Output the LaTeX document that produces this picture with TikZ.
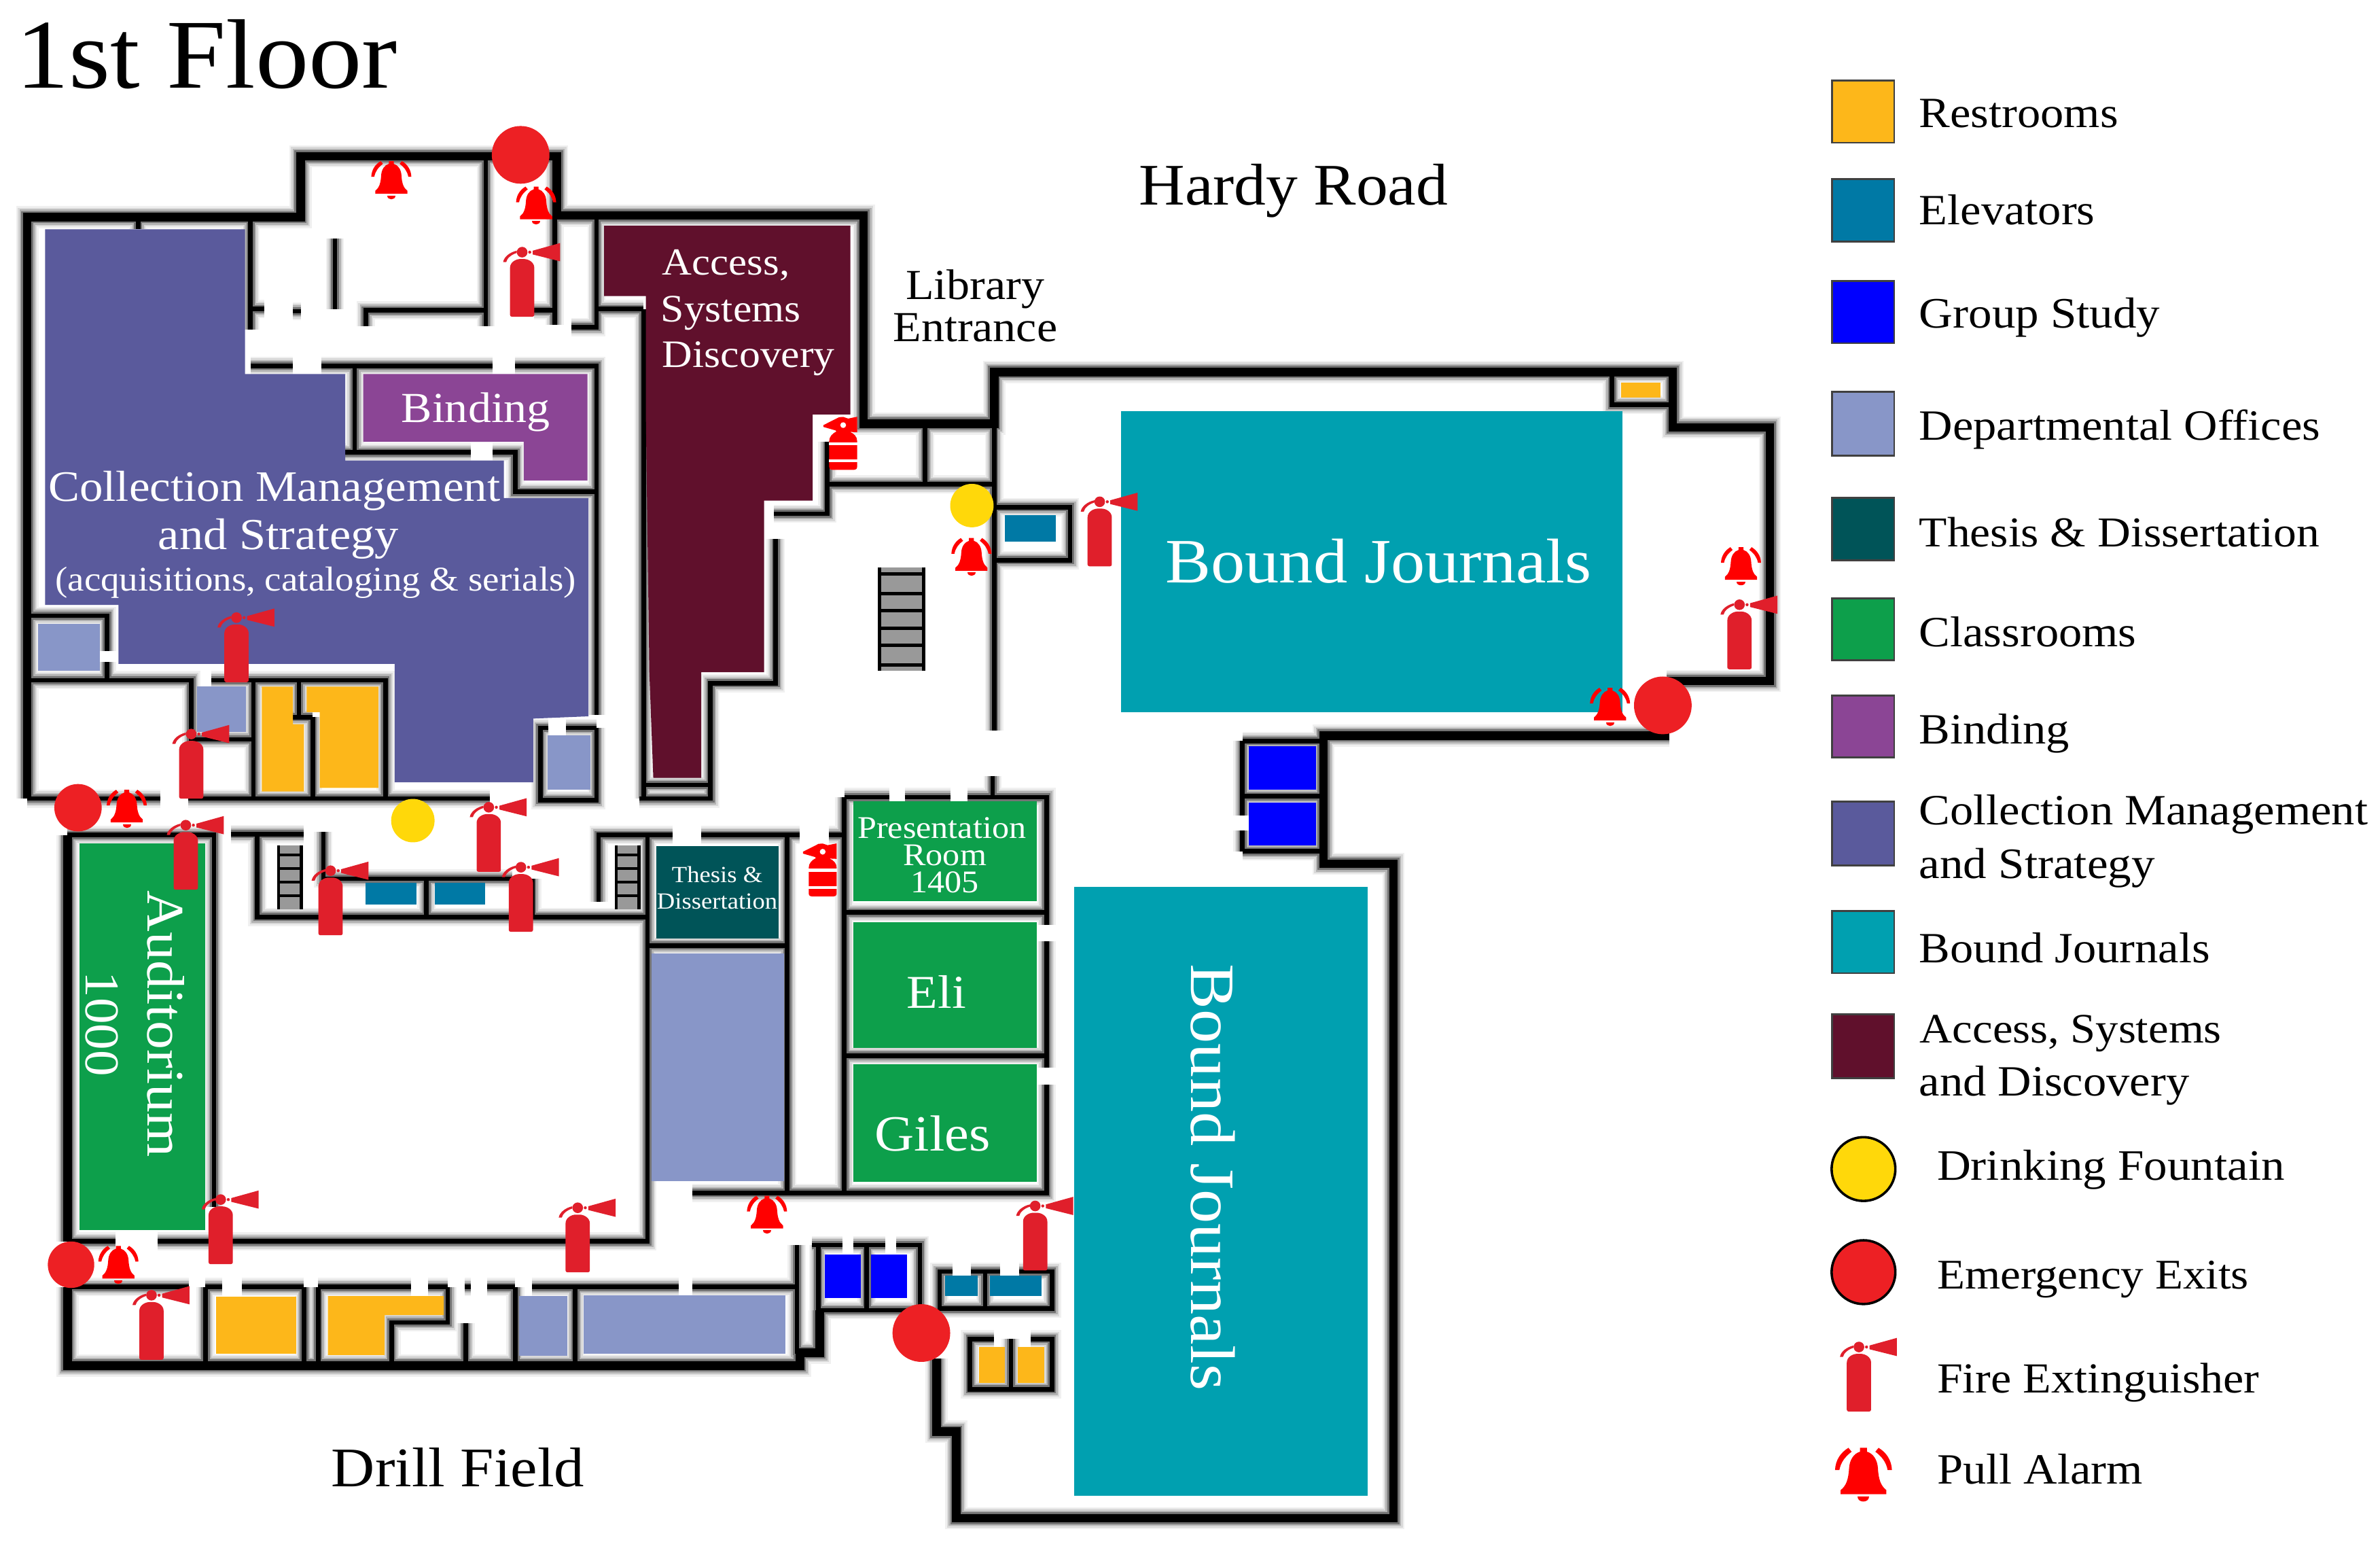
\documentclass[tikz,border=0pt]{standalone}
\usepackage{fontspec}
\setmainfont[FakeStretch=1.08]{Liberation Serif}
\definecolor{restroom}{HTML}{FDB71A}
\definecolor{elevator}{HTML}{0079A5}
\definecolor{groupstudy}{HTML}{0000FF}
\definecolor{deptoffice}{HTML}{8896C8}
\definecolor{thesis}{HTML}{005458}
\definecolor{classroom}{HTML}{0D9F4B}
\definecolor{binding}{HTML}{8B4595}
\definecolor{collection}{HTML}{5A5A9C}
\definecolor{journals}{HTML}{00A0B0}
\definecolor{access}{HTML}{60102C}
\definecolor{fountain}{HTML}{FFD80A}
\definecolor{exitred}{HTML}{ED2024}
\definecolor{firered}{HTML}{E01F2B}
\definecolor{alarmred}{HTML}{FF0000}
% thick outside walls
\newcommand{\wallsout}{
(18,526) -- (18,143) -- (198,143) -- (198,103) -- (367,103) -- (367,142) -- (569,142) -- (569,279) -- (655,279) -- (655,245) -- (1102,245) -- (1102,281.5) -- (1166,281.5) -- (1166,448.5) -- (1098,448.5)
(1100,484.5) -- (872,484.5) -- (872,569) -- (918,569) -- (918,1000) -- (630,1000) -- (630,943) -- (617,943) -- (617,895)
(44.5,817.6) -- (44.5,550)
(44.5,847.6) -- (44.5,899.4) -- (527,899.4) -- (527,891) -- (540,891) -- (540,863)
}
% thin inside walls
\newcommand{\wallsin}{
(91,143) -- (91,151)
(165,143) -- (165,217) (165,203.5) -- (174,203.5)
(193,205) -- (198.5,205)
(220.7,157) -- (220.7,203.5)
(241,215) -- (241,204.4) -- (320,204.4) (320,103) -- (320,215)
(365.4,103) -- (365.4,214) (352,204.4) -- (365.4,204.4)
(393,142) -- (393,215.5) -- (376.6,215.5) (393,203.5) -- (424,203.5)
(424,203.5) -- (424,526) (424,517) -- (468,517) (421,526) -- (468,526) -- (468,450) -- (511,450) -- (511,355)
(510,338.4) -- (545,338.4) -- (545,291)
(545,319) -- (569,319)
(165,241) -- (193,241) (211.5,241) -- (324.6,241) (339.5,241) -- (393,241) -- (393,471)
(233.7,241) -- (233.7,298) (227,298) -- (310,298) (324.6,298) -- (339.5,298) -- (339.5,324) -- (393,324)
(18,405.5) -- (70.5,405.5) -- (70.5,429) (70.5,436) -- (70.5,448) (18,448) -- (126,448) -- (126,487) -- (167,487)
(139,448) -- (254,448) -- (254,526) (167,448) -- (167,526)
(197,448) -- (197,472.4) (193,472.4) -- (206,472.4) (206,472.4) -- (206,526)
(18,526) -- (105.7,526) (124,526) -- (322.8,526)
(393,479.4) -- (393,527) -- (356,527) -- (356,479.4) -- (361,479.4) (373,479.4) -- (393,479.4)
(568,319) -- (655,319) (609.5,279) -- (609.5,319)
(655,279) -- (655,481) (654,511) -- (654,525)
(655,334) -- (705,334) -- (705,369) -- (655,369)
(818.5,488) -- (872,488) (818.5,524.5) -- (872,524.5) (818.5,560.7) -- (872,560.7) -- (872,488) (818.5,488) -- (818.5,537) (818.5,547) -- (818.5,560.7)
(44.5,550) -- (141,550) -- (141,795)
(44.5,817.6) -- (76,817.6) (104,817.6) -- (426.6,817.6) -- (426.6,550)
(152,549.3) -- (200,549.3) (169.5,549.3) -- (169.5,604) -- (426.6,604)
(213,548) -- (213,578.7) -- (337.6,578.7) (281,578.7) -- (281,604) (350.6,578.7) -- (350.6,604)
(394.4,594) -- (394.4,550) -- (443.3,550) (462,550) -- (526.8,550) (546,550) -- (556,550)
(426.6,622.7) -- (518.6,622.7) (518.6,550) -- (518.6,784.6)
(556.2,525) -- (556.2,785.7) (556.2,525) -- (586,525) (596,525) -- (626,525) (637.6,525) -- (689.5,525) -- (689.5,609) (689.5,620) -- (689.5,703) (689.5,714.5) -- (689.5,785.7) -- (456,785.7)
(556.2,601) -- (689.5,601) (556.2,695.3) -- (689.5,695.3)
(535,820) -- (555,820) (562,820) -- (583.3,820) (590.5,820) -- (606,820) -- (606,863) -- (539,863) -- (539,820) (571,820) -- (571,863)
(525,820) -- (525,890) -- (540,890)
(627.6,837.5) -- (619,837.5) -- (619,862) -- (693,862) -- (693,837.5) -- (671.3,837.5) (639.6,837.5) -- (659,837.5) (649,837.5) -- (649,862)
(654.7,882) -- (639,882) -- (639,915) -- (693,915) -- (693,882) -- (679,882) (666,882) -- (666,915)
(1062,245) -- (1062,266.6) -- (1101,266.6)
(44.5,847.6) -- (124.3,847.6) (135.4,847.6) -- (146.5,847.6) (159.5,847.6) -- (200.3,847.6) (209.6,847.6) -- (270.8,847.6) (282,847.6) -- (295,847.6) (306,847.6) -- (310,847.6) (321,847.6) -- (339.5,847.6) (350.6,847.6) -- (447,847.6) (456.3,847.6) -- (525,847.6)
(135.4,847.6) -- (135.4,899) (200.3,847.6) -- (200.3,899) (209.6,847.6) -- (209.6,899)
(295,847.6) -- (295,871) -- (258,871) -- (258,899) (306.8,871.6) -- (306.8,899)
(339.5,847.6) -- (339.5,899) (379,847.6) -- (379,899)
}
\begin{document}
\begin{tikzpicture}[x=0.5pt, y=-0.5pt,
  txt/.style = {font=\fontsize{#1}{#1}\selectfont, inner sep=0pt, anchor=base west},
  txtw/.style = {txt=#1, text=white},
  swatch/.style = {draw=black!75, line width=0.6pt},
  exitdot/.style = {fill=exitred},
  waterdot/.style = {fill=fountain},
  pics/firebig/.style = {code={
    \fill[firered, rounded corners=0.6pt] (-8,0) -- (-8,-31) .. controls (-8,-36) and (-4,-38) .. (0,-38) .. controls (4,-38) and (8,-36) .. (8,-31) -- (8,0) -- cycle;
    \fill[firered] (0,-42.5) circle[radius=3.5];
    \fill[firered] (5,-42.5) circle[radius=1];
    \fill[firered] (7,-43.5) -- (25,-48.5) -- (25,-36.5) -- (7,-41) -- cycle;
    \fill[firered] (-12.5,-36) .. controls (-12,-39.5) and (-8,-42.5) .. (-3.5,-43.5) -- (-3.5,-42) .. controls (-7,-41) and (-10,-38.5) .. (-10.5,-36) -- cycle;
  }},
  pics/firesmall/.style = {code={
    \fill[alarmred] (-9.2,-2) .. controls (-9.2,-0.5) and (-8,0) .. (-7,0) -- (7,0) .. controls (8,0) and (9.2,-0.5) .. (9.2,-2) -- (9.2,-19) .. controls (9.2,-22) and (7,-24) .. (4.5,-25) -- (9.2,-24.8) -- (9.2,-35) -- (3.3,-33.8) -- (0,-34.9) -- (-2.7,-34.7) -- (-13,-29.5) -- (-13,-28.3) -- (-5,-26) -- (-4.5,-25.3) .. controls (-7,-24) and (-9.2,-22) .. (-9.2,-19) -- cycle;
    \fill[white] (0,-29.5) circle[radius=1.9];
    \fill[white] (-9.4,-18.3) rectangle (9.4,-16.4);
    \fill[white] (-9.4,-7) rectangle (9.4,-5.2);
  }},
  pics/bell/.style = {code={
    \fill[alarmred] (-1.6,-12.6) -- (1.6,-12.6) -- (1.6,-10.8) .. controls (4.5,-10) and (6.5,-7) .. (6.7,-3) .. controls (7,2) and (8,5) .. (10.6,7) -- (10.6,8.9) -- (-10.6,8.9) -- (-10.6,7) .. controls (-8,5) and (-7,2) .. (-6.7,-3) .. controls (-6.5,-7) and (-4.5,-10) .. (-1.6,-10.8) -- cycle;
    \fill[alarmred] (-2.7,10) .. controls (-2.7,13.2) and (2.7,13.2) .. (2.7,10) -- cycle;
    \fill[alarmred] (-13.2,-2.3) .. controls (-13,-7) and (-10.5,-10.5) .. (-7,-12.6) -- (-5.5,-10.8) .. controls (-8.5,-8.5) and (-10.5,-6) .. (-11.2,-2.3) -- cycle;
    \fill[alarmred] (13.2,-2.3) .. controls (13,-7) and (10.5,-10.5) .. (7,-12.6) -- (5.5,-10.8) .. controls (8.5,-8.5) and (10.5,-6) .. (11.2,-2.3) -- cycle;
  }}]
\useasboundingbox (0,0) rectangle (1568,1015.6);
% soft edge of the walls
\draw[black!6, line width=7.3pt] \wallsout;
\draw[black!6, line width=6pt] \wallsin;
\draw[black!15, line width=6.2pt] \wallsout;
\draw[black!15, line width=4.9pt] \wallsin;
\draw[black!30, line width=5.1pt] \wallsout;
\draw[black!30, line width=3.8pt] \wallsin;
\draw[black!55, line width=4pt] \wallsout;
\draw[black!55, line width=2.7pt] \wallsin;
\draw[black, line width=2.8pt] \wallsout;
\draw[black, line width=1.5pt] \wallsin;
% stairs
\fill[black!40] (579.6,373.7) rectangle (608.6,442);
\draw[black, line width=1.1pt] (579.6,373.7) -- (579.6,442) (608.6,373.7) -- (608.6,442) (579.6,378) -- (608.6,378) (579.6,391) -- (608.6,391) (579.6,402) -- (608.6,402) (579.6,414) -- (608.6,414) (579.6,425) -- (608.6,425) (579.6,438) -- (608.6,438);
\fill[black!40] (183.6,556.8) rectangle (198.5,598.7);
\draw[black, line width=1pt] (183.6,556.8) -- (183.6,598.7) (198.5,556.8) -- (198.5,598.7) (183.6,563) -- (198.5,563) (183.6,572) -- (198.5,572) (183.6,581) -- (198.5,581) (183.6,590) -- (198.5,590);
\fill[black!40] (406,556.8) rectangle (421,598.7);
\draw[black, line width=1pt] (406,556.8) -- (406,598.7) (421,556.8) -- (421,598.7) (406,563) -- (421,563) (406,572) -- (421,572) (406,581) -- (421,581) (406,590) -- (421,590);
% rooms
\fill[collection] (29.7,151) -- (161.4,151) -- (161.4,246.4) -- (227.4,246.4) -- (227.4,303.3) -- (332,303.3) -- (332,328) -- (387.7,328) -- (387.7,471.8) -- (351.3,473.3) -- (351.3,515.3) -- (260,515.3) -- (260,437.3) -- (78,437.3) -- (78,398.4) -- (29.7,398.4) -- cycle;
\fill[binding] (239.3,246.4) -- (387,246.4) -- (387,316.5) -- (345,316.5) -- (345,291) -- (239.3,291) -- cycle;
\fill[access] (398,148.7) -- (560.2,148.7) -- (560.2,273) -- (535.4,273) -- (535.4,329.7) -- (503.4,329.7) -- (503.4,442.8) -- (462,442.8) -- (462,512.3) -- (430.4,512.3) -- (427.8,442.8) -- (425.5,273) -- (425.5,195) -- (398,195) -- cycle;
\fill[journals] (738.6,271) rectangle (1069,469);
\fill[journals] (707.5,584) rectangle (901,985.4);
\fill[deptoffice] (25,411) rectangle (65.7,442);
\fill[deptoffice] (130,452.3) rectangle (162,482.3);
\fill[deptoffice] (360.6,484.4) rectangle (389,520);
\fill[deptoffice] (429.2,628) rectangle (516.4,778);
\fill[deptoffice] (342,853.6) rectangle (373.6,893);
\fill[deptoffice] (384.4,853) rectangle (517.5,891.6);
\fill[restroom] (172.5,452.3) -- (193,452.3) -- (193,477) -- (200.3,477) -- (200.3,521.3) -- (172.5,521.3) -- cycle;
\fill[restroom] (202,452.3) -- (249.3,452.3) -- (249.3,519) -- (210.7,519) -- (210.7,469) -- (202,469) -- cycle;
\fill[restroom] (1068,252) rectangle (1094,262);
\fill[restroom] (142.5,854.2) rectangle (195,891.7);
\fill[restroom] (216,853.6) -- (292.3,853.6) -- (292.3,866.2) -- (253.4,866.2) -- (253.4,892.5) -- (216,892.5) -- cycle;
\fill[restroom] (645,887) rectangle (662,911);
\fill[restroom] (670.4,887) rectangle (688,911);
\fill[elevator] (662,339.4) rectangle (695.6,356.6);
\fill[elevator] (241,581.4) rectangle (274.5,595.7);
\fill[elevator] (286.4,581.4) rectangle (319.8,595.7);
\fill[elevator] (622.7,840) rectangle (644,853.5);
\fill[elevator] (652,840) rectangle (686,853.5);
\fill[groupstudy] (822.7,491.6) rectangle (867,520);
\fill[groupstudy] (822.7,528.7) rectangle (867,557);
\fill[groupstudy] (543.4,826.3) rectangle (567,855);
\fill[groupstudy] (574,826.3) rectangle (597.6,855);
\fill[classroom] (52.3,555.3) rectangle (135,810);
\fill[classroom] (562,527.6) rectangle (683.2,593.4);
\fill[classroom] (562,607.5) rectangle (683.2,690);
\fill[classroom] (562,701) rectangle (683.2,778.4);
\fill[thesis] (432.2,557.4) rectangle (513,618.2);
% exits and fountains
\fill[exitdot] (343,102) circle[radius=19];
\fill[exitdot] (1095.5,464.6) circle[radius=19];
\fill[exitdot] (51.4,532) circle[radius=15.6];
\fill[exitdot] (46.8,833) circle[radius=15.3];
\fill[exitdot] (607,878) circle[radius=19];
\fill[waterdot] (272,540.5) circle[radius=14.3];
\fill[waterdot] (640.3,333) circle[radius=14.3];
% plain labels
\node[txt=32.5] (title) at (10,58) {1st Floor};
\node[txt=19.4] (hardy) at (750,135) {Hardy Road};
\node[txt=18.4] (drill) at (218,979) {Drill Field};
\node[txt=14.1, anchor=base] (entr1) at (642.5,197) {Library};
\node[txt=14.1, anchor=base] (entr2) at (642.5,225) {Entrance};
% room labels
\node[txtw=12.6] (acc1) at (436,181) {Access,};
\node[txtw=12.8] (acc2) at (435,212) {Systems};
\node[txtw=12.8] (acc3) at (436,242) {Discovery};
\node[txtw=14.1] (bind) at (264,278) {Binding};
\node[txtw=14.3] (coll1) at (31.5,330) {Collection Management};
\node[txtw=14.6, anchor=base] (coll2) at (183.5,362) {and Strategy};
\node[txtw=11.4] (coll3) at (36,389) {(acquisitions, cataloging \& serials)};
\node[txtw=20.8] (bj1) at (767.5,384) {Bound Journals};
\node[txtw=20.8, rotate=-90, anchor=base] (bj2) at (785,775.5) {Bound Journals};
\node[txtw=17.4, rotate=-90, anchor=base] (aud1) at (97.5,674.5) {Auditorium};
\node[txtw=16, rotate=-90, anchor=base] (aud2) at (56.5,674.5) {1000};
\node[txtw=10.4, anchor=base] (pres1) at (620.5,552) {Presentation};
\node[txtw=10.4, anchor=base] (pres2) at (622.5,570) {Room};
\node[txtw=10.4, anchor=base] (pres3) at (622.5,588) {1405};
\node[txtw=15.5] (eli) at (597,664) {Eli};
\node[txtw=16.7] (giles) at (576,758) {Giles};
\node[txtw=7.6, anchor=base] (the1) at (472.5,581.4) {Thesis \&};
\node[txtw=7.6, anchor=base] (the2) at (472.5,598.7) {Dissertation};
% extinguishers and alarms on the plan
\pic (fe1) at (344,208.6) {firebig};
\pic (fe2) at (155.8,449.3) {firebig};
\pic (fe3) at (126,526) {firebig};
\pic (fe4) at (322,574.2) {firebig};
\pic (fe5) at (122.4,586) {firebig};
\pic (fe6) at (217.8,616) {firebig};
\pic (fe7) at (343.2,613.7) {firebig};
\pic (fe8) at (145.4,832.6) {firebig};
\pic (fe9) at (380.6,838) {firebig};
\pic (fe10) at (99.8,895.6) {firebig};
\pic (fe11) at (724.5,373) {firebig};
\pic (fe12) at (1146,440.8) {firebig};
\pic (fe13) at (682,836.8) {firebig};
\pic (fs1) at (555.5,309.5) {firesmall};
\pic (fs2) at (542,590.5) {firesmall};
\pic (al1) at (257.8,118.7) {bell};
\pic (al2) at (353.2,135.5) {bell};
\pic (al3) at (83.5,532.8) {bell};
\pic (al4) at (78,833.2) {bell};
\pic (al5) at (505.3,800.2) {bell};
\pic (al6) at (640,367) {bell};
\pic (al7) at (1147,373) {bell};
\pic (al8) at (1060.7,465.6) {bell};
% legend
\fill[restroom, swatch] (1207,53) rectangle (1248,94);
\fill[elevator, swatch] (1207,118) rectangle (1248,159);
\fill[groupstudy, swatch] (1207,185) rectangle (1248,226);
\fill[deptoffice, swatch] (1207,258) rectangle (1248,300);
\fill[thesis, swatch] (1207,328) rectangle (1248,369);
\fill[classroom, swatch] (1207,394) rectangle (1248,435);
\fill[binding, swatch] (1207,458) rectangle (1248,499);
\fill[collection, swatch] (1207,528) rectangle (1248,570);
\fill[journals, swatch] (1207,600) rectangle (1248,641);
\fill[access, swatch] (1207,668) rectangle (1248,710);
\fill[fountain, draw=black, line width=0.8pt] (1227.7,770) circle[radius=21];
\fill[exitred, draw=black, line width=0.8pt] (1227.7,837.9) circle[radius=21];
\pic (lgfe) at (1224.7,929.7) {firebig};
\pic[scale=1.42] (lgal) at (1227.7,971.5) {bell};
\node[txt=14.2] (lg1) at (1264,84) {Restrooms};
\node[txt=14.2] (lg2) at (1264,148) {Elevators};
\node[txt=14.3] (lg3) at (1264,216) {Group Study};
\node[txt=14.2] (lg4) at (1264,290) {Departmental Offices};
\node[txt=14] (lg5) at (1264,360) {Thesis \& Dissertation};
\node[txt=14.2] (lg6) at (1264,426) {Classrooms};
\node[txt=14.2] (lg7) at (1264,490) {Binding};
\node[txt=14.2] (lg8) at (1264,543) {Collection Management};
\node[txt=14.3] (lg8b) at (1264,578.5) {and Strategy};
\node[txt=14.2] (lg9) at (1264,634) {Bound Journals};
\node[txt=13.8] (lg10) at (1264.5,687) {Access, Systems};
\node[txt=14.2] (lg10b) at (1264,722) {and Discovery};
\node[txt=14.3] (lg11) at (1275.8,777.5) {Drinking Fountain};
\node[txt=13.9] (lg12) at (1275.8,849) {Emergency Exits};
\node[txt=14.1] (lg13) at (1275.8,917.5) {Fire Extinguisher};
\node[txt=14.2] (lg14) at (1275.8,977.5) {Pull Alarm};
\end{tikzpicture}
\end{document}
